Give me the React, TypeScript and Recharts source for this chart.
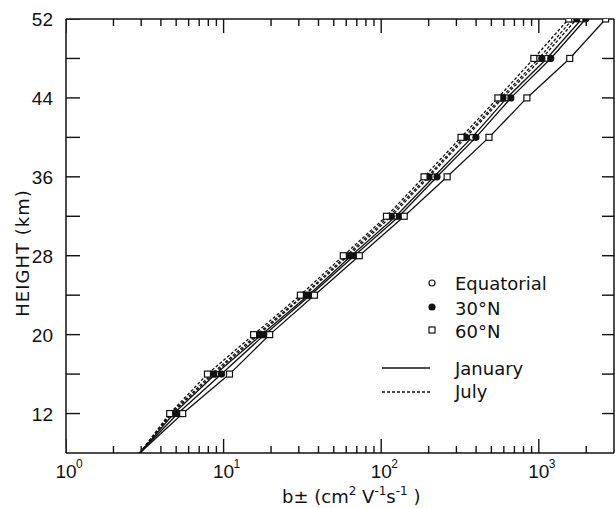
import React from "react";
import { ScatterChart, Scatter, XAxis, YAxis, Legend, Label } from "recharts";

// heights (km) at which the curves are sampled
const heights = [8, 12, 16, 20, 24, 28, 32, 36, 40, 44, 48, 52];

// b± (cm^2 V^-1 s^-1)
const eqJan = [2.94, 4.83, 8.9, 17.4, 34.5, 64.6, 124, 216, 377, 627, 1124, 1872];
const eqJul = [2.94, 4.62, 8.4, 16.2, 32.1, 60.0, 112, 196, 335, 575, 1000, 1642];
const n30Jan = [2.94, 5.12, 9.7, 18.2, 35.5, 67.5, 130, 226, 399, 665, 1191, 1984];
const n30Jul = [2.94, 4.69, 8.65, 16.7, 32.6, 61.8, 116, 201, 345, 592, 1045, 1740];
const n60Jan = [2.94, 5.5, 10.9, 19.6, 37.7, 72.6, 140, 262, 483, 840, 1571, 2655];
const n60Jul = [2.94, 4.55, 7.9, 15.5, 30.7, 57.5, 108, 187, 321, 550, 930, 1548];

const xMajor = [1, 10, 100, 1000];
const xTicks = [
  1, 2, 3, 4, 5, 6, 7, 8, 9,
  10, 20, 30, 40, 50, 60, 70, 80, 90,
  100, 200, 300, 400, 500, 600, 700, 800, 900,
  1000, 2000,
];
const yTicks = [12, 16, 20, 24, 28, 32, 36, 40, 44, 48, 52];
const yLabelled = [12, 20, 28, 36, 44, 52];
const xDomain = [1, 3000];
const yDomain = [8, 52];

const INK = "#111";
const NUM_FONT = "Liberation Sans, Arial, sans-serif";
const TXT_FONT = "DejaVu Sans, sans-serif";

const toPoints = (vals: number[]) => heights.map((h, i) => ({ h, b: vals[i] }));

const series = [
  { key: "eqJan", vals: eqJan, marker: "circle", dash: undefined },
  { key: "eqJul", vals: eqJul, marker: "circle", dash: "3 2" },
  { key: "n30Jan", vals: n30Jan, marker: "dot", dash: undefined },
  { key: "n30Jul", vals: n30Jul, marker: "dot", dash: "3 2" },
  { key: "n60Jan", vals: n60Jan, marker: "square", dash: undefined },
  { key: "n60Jul", vals: n60Jul, marker: "square", dash: "3 2" },
];

// inward tick marks, placed through the chart's own scales
const tickMarks = [
  ...xTicks.map((b) => ({ b, h: yDomain[0], side: "bottom" })),
  ...xTicks.map((b) => ({ b, h: yDomain[1], side: "top" })),
  ...yTicks.map((h) => ({ b: xDomain[0], h, side: "left" })),
  ...yTicks.filter((h) => h < 52).map((h) => ({ b: xDomain[1], h, side: "right" })),
];

const TickMark = (p: any) => {
  const { cx, cy, payload } = p;
  if (!payload) return <g />;
  const major = xMajor.includes(payload.b);
  const xl = major ? 14 : 7;
  switch (payload.side) {
    case "bottom":
      return <line x1={cx} x2={cx} y1={cy} y2={cy - xl} stroke={INK} strokeWidth={1.4} />;
    case "top":
      return <line x1={cx} x2={cx} y1={cy} y2={cy + xl} stroke={INK} strokeWidth={1.4} />;
    case "left":
      return <line x1={cx} x2={cx + 14} y1={cy} y2={cy} stroke={INK} strokeWidth={1.4} />;
    default:
      return <line x1={cx} x2={cx - 12} y1={cy} y2={cy} stroke={INK} strokeWidth={1.4} />;
  }
};

const Marker = ({ kind, cx, cy }: { kind: string; cx: number; cy: number }) => {
  if (kind === "square")
    return <rect x={cx - 3} y={cy - 3} width={6} height={6} fill="#fff" stroke={INK} strokeWidth={1.2} />;
  return <circle cx={cx} cy={cy} r={3} fill={kind === "dot" ? INK : "#fff"} stroke={INK} strokeWidth={1.2} />;
};

const makeShape = (kind: string) => (p: any) => {
  if (!p.payload || p.payload.h <= 8) return <g />;
  return <Marker kind={kind} cx={p.cx} cy={p.cy} />;
};

const xLabel = (p: any) => {
  const x = Number(p.x);
  const y = Number(p.y);
  const v = p.payload.value;
  if (!xMajor.includes(v)) return <g key={"x" + v} />;
  return (
    <g key={"x" + v} fontFamily={NUM_FONT} fill={INK}>
      <text x={x} y={y + 25} textAnchor="middle" fontSize={19}>10</text>
      <text x={x + 10} y={y + 15} fontSize={12}>{Math.round(Math.log10(v))}</text>
    </g>
  );
};

const yLabel = (p: any) => {
  const x = Number(p.x);
  const y = Number(p.y);
  const v = p.payload.value;
  if (!yLabelled.includes(v)) return <g key={"y" + v} />;
  return (
    <text key={"y" + v} x={x - 13} y={y + 7} textAnchor="end" fontSize={19} fontFamily={NUM_FONT} fill={INK}>
      {v}
    </text>
  );
};

const XTitle = () => (
  <text x={282} y={503} fontSize={18} fontFamily={TXT_FONT} fill={INK}>
    b±
    <tspan> (cm</tspan>
    <tspan dy={-8} fontSize={12}>2</tspan>
    <tspan dy={8}> V</tspan>
    <tspan dy={-8} fontSize={12}>-1</tspan>
    <tspan dy={8}>s</tspan>
    <tspan dy={-8} fontSize={12}>-1</tspan>
    <tspan dy={8}> )</tspan>
  </text>
);

const YTitle = () => (
  <text
    x={0}
    y={0}
    transform="translate(29,253) rotate(-90)"
    textAnchor="middle"
    fontSize={18}
    letterSpacing={1}
    fontFamily={TXT_FONT}
    fill={INK}
  >
    HEIGHT (km)
  </text>
);

const LegendBox = () => (
  <svg width={200} height={150} style={{ overflow: "visible" }}>
    <g fontFamily={TXT_FONT} fontSize={18} fill={INK}>
      <Marker kind="circle" cx={62} cy={21} />
      <text x={85} y={28}>Equatorial</text>
      <Marker kind="dot" cx={62} cy={45} />
      <text x={85} y={53}>30°N</text>
      <Marker kind="square" cx={62} cy={68} />
      <text x={85} y={76}>60°N</text>
      <line x1={12} x2={60} y1={106} y2={106} stroke={INK} strokeWidth={1.3} />
      <text x={85} y={113}>January</text>
      <line x1={12} x2={60} y1={130} y2={130} stroke={INK} strokeWidth={1.3} strokeDasharray="3 2" />
      <text x={85} y={136}>July</text>
    </g>
  </svg>
);

const axisLine = { stroke: INK, strokeWidth: 1.5 };

export default function App() {
  return (
    <div style={{ width: 615, height: 508 }}>
      <style>{"body{margin:0;background:#fff}"}</style>
      <ScatterChart width={615} height={508} margin={{ top: 18, right: 0, left: 0, bottom: 0 }}>
        <XAxis xAxisId="bottom" dataKey="b" type="number" scale="log" domain={xDomain} allowDataOverflow
          ticks={xTicks} interval={0} height={55} tickSize={0} tickMargin={0} tickLine={false}
          axisLine={axisLine} tick={xLabel}>
          <Label content={<XTitle />} />
        </XAxis>
        <XAxis xAxisId="top" orientation="top" dataKey="b" type="number" scale="log" domain={xDomain} allowDataOverflow
          ticks={xTicks} height={1} tickLine={false} axisLine={axisLine} tick={false} />
        <YAxis yAxisId="left" dataKey="h" type="number" domain={yDomain} allowDataOverflow ticks={yTicks}
          interval={0} width={66} tickSize={0} tickMargin={0} tickLine={false}
          axisLine={axisLine} tick={yLabel}>
          <Label content={<YTitle />} />
        </YAxis>
        <YAxis yAxisId="right" orientation="right" dataKey="h" type="number" domain={yDomain} allowDataOverflow
          ticks={yTicks} width={1} tickLine={false} axisLine={axisLine} tick={false} />
        <Legend layout="horizontal" verticalAlign="middle" align="center" content={<LegendBox />}
          wrapperStyle={{ position: "absolute", left: 370, top: 262, width: 200, height: 150 }} />
        <Scatter
          name="ticks"
          xAxisId="bottom"
          yAxisId="left"
          data={tickMarks}
          shape={TickMark}
          legendType="none"
          isAnimationActive={false}
        />
        {series.map((s) => (
          <Scatter
            key={s.key}
            name={s.key}
            xAxisId="bottom"
            yAxisId="left"
            data={toPoints(s.vals)}
            line={{ stroke: INK, strokeWidth: 1.3, strokeDasharray: s.dash }}
            lineType="joint"
            shape={makeShape(s.marker)}
            isAnimationActive={false}
          />
        ))}
      </ScatterChart>
    </div>
  );
}
